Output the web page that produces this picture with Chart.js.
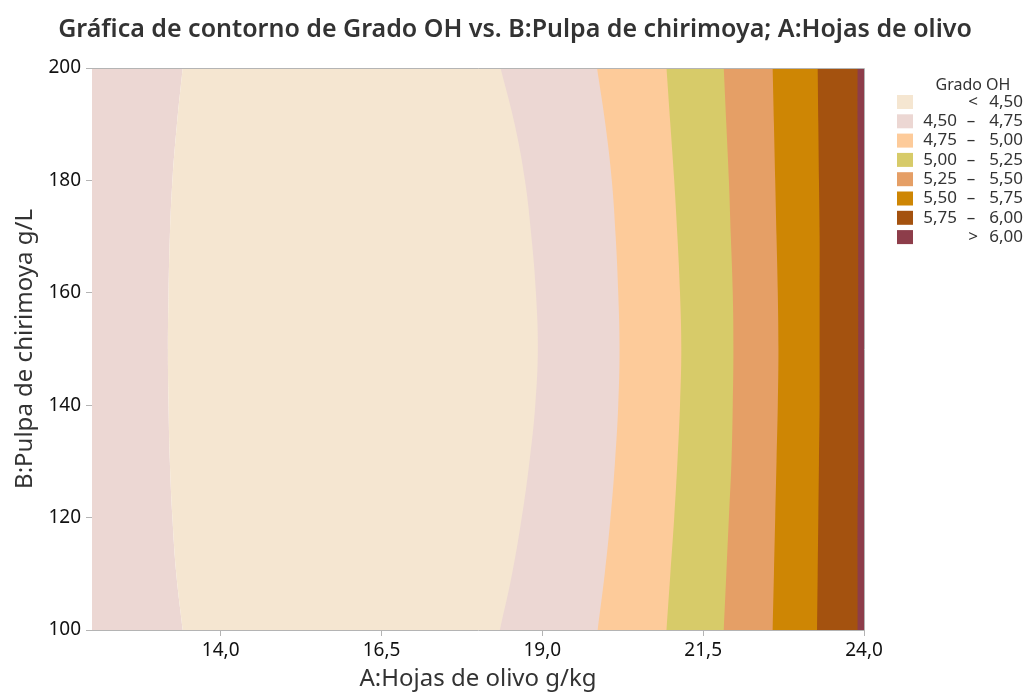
<!DOCTYPE html>
<html>
<head>
<meta charset="utf-8">
<script src="https://cdn.jsdelivr.net/npm/chart.js@4.4.1/dist/chart.umd.min.js"></script>
<style>
  html, body { margin: 0; padding: 0; background: #fff; }
  #wrap { width: 1030px; height: 696px; }
</style>
</head>
<body>
<div id="wrap"><canvas id="contourChart"></canvas></div>
<script>
// B:Pulpa de chirimoya levels (g/L) where each contour line was read
const pulpaLevels = [100, 110, 120, 130, 140, 150, 160, 170, 180, 190, 200];

// A:Hojas de olivo position (g/kg) of every contour line at those levels
const contour450Left  = [13.41, 13.31, 13.25, 13.21, 13.19, 13.18, 13.19, 13.21, 13.25, 13.32, 13.41];
const contour450Right = [18.34, 18.53, 18.68, 18.80, 18.89, 18.93, 18.90, 18.83, 18.73, 18.57, 18.35];
const contour475      = [19.86, 19.97, 20.06, 20.13, 20.18, 20.20, 20.18, 20.14, 20.08, 19.98, 19.85];
const contour500      = [20.93, 20.99, 21.05, 21.10, 21.14, 21.16, 21.14, 21.10, 21.05, 20.99, 20.93];
const contour525      = [21.82, 21.86, 21.90, 21.94, 21.96, 21.97, 21.96, 21.93, 21.90, 21.86, 21.82];
const contour550      = [22.58, 22.60, 22.62, 22.64, 22.66, 22.67, 22.66, 22.64, 22.62, 22.60, 22.58];
const contour575      = [23.27, 23.28, 23.29, 23.30, 23.31, 23.31, 23.31, 23.31, 23.30, 23.29, 23.28];
const contour600      = [23.90, 23.90, 23.90, 23.91, 23.91, 23.91, 23.91, 23.91, 23.91, 23.90, 23.90];

// axis range and ticks
const xMin = 12, xMax = 24;
const xTickValues = [14.0, 16.5, 19.0, 21.5, 24.0];
const yTickValues = [100, 120, 140, 160, 180, 200];

// legend bands: < 4,50 ... > 6,00
const gradoLevels = [4.50, 4.75, 5.00, 5.25, 5.50, 5.75, 6.00];
const bandColors = ['#F5E6D1', '#ECD7D3', '#FDCB9A', '#D7CB69', '#E59F66', '#CE8604', '#A4520F', '#8D3D4A'];

const FONT = '"Noto Sans", "Open Sans", sans-serif';
const fmt = (v, d) => v.toFixed(d).replace('.', ',');
const toPoints = (xs) => xs.map((x, i) => ({ x: x, y: pulpaLevels[i] }));

function band(label, line, fillTo, color, order) {
    return {
        label: label,
        data: toPoints(line),
        fill: { value: fillTo },
        backgroundColor: color,
        borderColor: 'rgba(0,0,0,0)',
        borderWidth: 0,
        pointRadius: 0,
        pointHoverRadius: 0,
        tension: 0.4,
        order: order
    };
}

// Each band is filled right of its lower contour; bands further right sit on top
const datasets = [
    band('> 6,00', contour600, xMax, bandColors[7], 0),
    band('5,75 - 6,00', contour575, xMax, bandColors[6], 1),
    band('5,50 - 5,75', contour550, xMax, bandColors[5], 2),
    band('5,25 - 5,50', contour525, xMax, bandColors[4], 3),
    band('5,00 - 5,25', contour500, xMax, bandColors[3], 4),
    band('4,75 - 5,00', contour475, xMax, bandColors[2], 5),
    band('4,50 - 4,75', contour450Right, xMax, bandColors[1], 6),
    band('< 4,50', contour450Left, xMax, bandColors[0], 7),
    band('4,50 - 4,75 (izq.)', contour450Left, xMin, bandColors[1], 8)
];

// frame on top and right of the plot
const frameBox = {
    id: 'frameBox',
    afterDatasetsDraw(chart) {
        const { ctx, chartArea: a } = chart;
        ctx.save();
        ctx.strokeStyle = '#b4b4b4';
        ctx.lineWidth = 1;
        ctx.beginPath();
        ctx.moveTo(a.left, a.top + 0.5);
        ctx.lineTo(a.right + 0.5, a.top + 0.5);
        ctx.lineTo(a.right + 0.5, a.bottom);
        ctx.stroke();
        ctx.restore();
    }
};

// legend "Grado OH" with aligned columns
const gradoLegend = {
    id: 'gradoLegend',
    afterDraw(chart) {
        const { ctx, chartArea: a } = chart;
        const boxX = a.right + 33;
        const top = 102;
        const step = 19.3;
        ctx.save();
        ctx.fillStyle = '#333';
        ctx.font = '16px ' + FONT;
        ctx.textAlign = 'center';
        ctx.textBaseline = 'middle';
        ctx.fillText('Grado OH', a.right + 109, 85);
        ctx.font = '17px ' + FONT;
        for (let i = 0; i < bandColors.length; i++) {
            const y = top + i * step;
            ctx.fillStyle = bandColors[i];
            ctx.fillRect(boxX, y - 7, 16, 14);
            ctx.fillStyle = '#333';
            ctx.textAlign = 'right';
            if (i === 0) {
                ctx.fillText(fmt(gradoLevels[0], 2), a.right + 159, y);
                ctx.textAlign = 'center';
                ctx.fillText('<', a.right + 109, y);
            } else if (i === bandColors.length - 1) {
                ctx.fillText(fmt(gradoLevels[gradoLevels.length - 1], 2), a.right + 159, y);
                ctx.textAlign = 'center';
                ctx.fillText('>', a.right + 109, y);
            } else {
                ctx.fillText(fmt(gradoLevels[i - 1], 2), a.right + 93, y);
                ctx.fillText(fmt(gradoLevels[i], 2), a.right + 159, y);
                ctx.textAlign = 'center';
                ctx.fillText('\u2013', a.right + 107, y);
            }
        }
        ctx.restore();
    }
};

const ctx = document.getElementById('contourChart').getContext('2d');
const contourChart = new Chart(ctx, {
    type: 'line',
    data: { datasets: datasets },
    options: {
        responsive: true,
        maintainAspectRatio: false,
        animation: false,
        indexAxis: 'y',
        layout: { padding: 0 },
        plugins: {
            legend: { display: false },
            tooltip: { enabled: false },
            title: {
                display: true,
                text: 'Gráfica de contorno de Grado OH vs. B:Pulpa de chirimoya; A:Hojas de olivo',
                color: '#333',
                font: { family: FONT, size: 25, weight: '600' },
                padding: { top: 15, bottom: 23 }
            }
        },
        scales: {
            x: {
                type: 'linear',
                position: 'bottom',
                min: xMin,
                max: xMax,
                afterBuildTicks: (s) => { s.ticks = xTickValues.map(v => ({ value: v })); },
                afterFit: (s) => { s.height = 66; },
                ticks: {
                    callback: (v) => fmt(v, 1),
                    color: '#111',
                    font: { family: FONT, size: 19 },
                    padding: 3
                },
                grid: { drawOnChartArea: false, drawTicks: true, tickLength: 6, color: '#b4b4b4' },
                border: { display: true, color: '#b4b4b4' },
                title: {
                    display: true,
                    text: 'A:Hojas de olivo g/kg',
                    color: '#333',
                    font: { family: FONT, size: 24 },
                    padding: { top: 0, bottom: 2 }
                }
            },
            y: {
                type: 'linear',
                position: 'left',
                min: 100,
                max: 200,
                afterBuildTicks: (s) => { s.ticks = yTickValues.map(v => ({ value: v })); },
                afterFit: (s) => { s.width = 92; },
                ticks: {
                    color: '#111',
                    font: { family: FONT, size: 19 },
                    padding: 5
                },
                grid: { drawOnChartArea: false, drawTicks: true, tickLength: 6, color: '#b4b4b4' },
                border: { display: true, color: '#b4b4b4' },
                title: {
                    display: true,
                    text: 'B:Pulpa de chirimoya g/L',
                    color: '#333',
                    font: { family: FONT, size: 24 },
                    padding: { top: 11, bottom: 0 }
                }
            },
            // empty right-hand axis that reserves room for the legend
            legendSpace: {
                type: 'linear',
                position: 'right',
                display: true,
                ticks: { display: false },
                grid: { display: false },
                border: { display: false },
                afterFit: (s) => { s.width = 166; }
            }
        }
    },
    plugins: [frameBox, gradoLegend]
});
</script>
</body>
</html>
